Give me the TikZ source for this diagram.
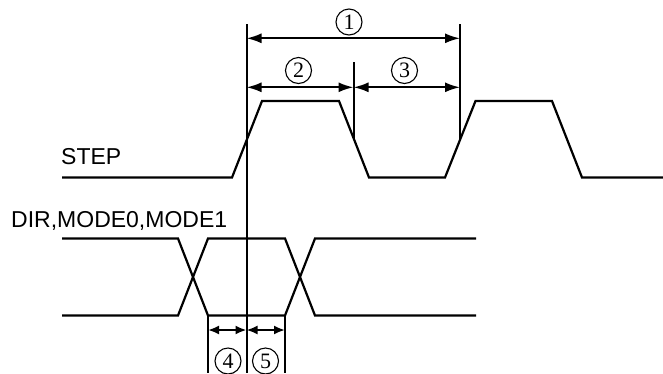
\documentclass[tikz,border=0pt]{standalone}
\usepackage{fontspec}
\setmainfont{Liberation Sans}
\newfontfamily\numfont{Liberation Serif}
\usetikzlibrary{arrows.meta}
\tikzset{
  wave/.style={line width=2.2pt, line join=miter},
  guide/.style={line width=2pt},
  dimbig/.style={line width=2pt, {Latex[length=15pt,width=10pt]}-{Latex[length=15pt,width=10pt]}},
  dimsmall/.style={line width=2pt, {Latex[length=11pt,width=9pt]}-{Latex[length=11pt,width=9pt]}},
  circnum/.style={circle, draw, line width=1.1pt, minimum size=26pt, inner sep=0pt, font=\numfont\fontsize{22}{22}\selectfont},
  sig/.style={anchor=base west, inner sep=0pt, font=\fontsize{23}{23}\selectfont}
}
\begin{document}
\begin{tikzpicture}[x=1pt,y=-1pt]
\useasboundingbox (0,0) rectangle (663,373);
% signal labels
\node[sig] (steplbl) at (61,164.3) {STEP};
\node[sig] (dirlbl) at (11,227) {DIR,MODE0,MODE1};
% STEP waveform
\draw[wave] (62,177.5) -- (232,177.5) -- (262,101) -- (339,101) -- (369,177.5)
  -- (445,177.5) -- (475.5,101) -- (552,101) -- (582,177.5) -- (663,177.5);
% DIR waveform
\draw[wave] (62,238.5) -- (178,238.5) -- (208,315.5) -- (285,315.5) -- (315,238.5) -- (476,238.5);
\draw[wave] (62,315.5) -- (178,315.5) -- (208,238.5) -- (285,238.5) -- (315,315.5) -- (476,315.5);
% guide lines
\coordinate (gA1) at (246.5,24);
\coordinate (gA2) at (246.5,373);
\coordinate (gB1) at (353.5,62);
\coordinate (gB2) at (353.5,138.5);
\coordinate (gC1) at (460,24);
\coordinate (gC2) at (460,138.5);
\coordinate (gD1) at (208,315.5);
\coordinate (gD2) at (208,373);
\coordinate (gE1) at (285,315.5);
\coordinate (gE2) at (285,373);
\draw[guide] (gA1) -- (gA2);
\draw[guide] (gB1) -- (gB2);
\draw[guide] (gC1) -- (gC2);
\draw[guide] (gD1) -- (gD2);
\draw[guide] (gE1) -- (gE2);
% dimension arrows
\coordinate (d1a) at (246.5,38.3);
\coordinate (d1b) at (460,38.3);
\coordinate (d2a) at (246.5,87.3);
\coordinate (d2b) at (353.5,87.3);
\coordinate (d3b) at (460,87.3);
\coordinate (d4a) at (208,330);
\coordinate (d4b) at (246.5,330);
\coordinate (d5b) at (285,330);
\draw[dimbig] (d1a) -- (d1b);
\draw[dimbig] (d2a) -- (d2b);
\draw[dimbig] (d2b) -- (d3b);
\draw[dimsmall] (d4a) -- (d4b);
\draw[dimsmall] (d4b) -- (d5b);
% circled numbers
\node[circnum] (n1) at (349,22) {1};
\node[circnum] (n2) at (298.5,70.5) {2};
\node[circnum] (n3) at (404.5,70.5) {3};
\node[circnum] (n4) at (228,361) {4};
\node[circnum] (n5) at (265.5,361) {5};
\end{tikzpicture}
\end{document}
